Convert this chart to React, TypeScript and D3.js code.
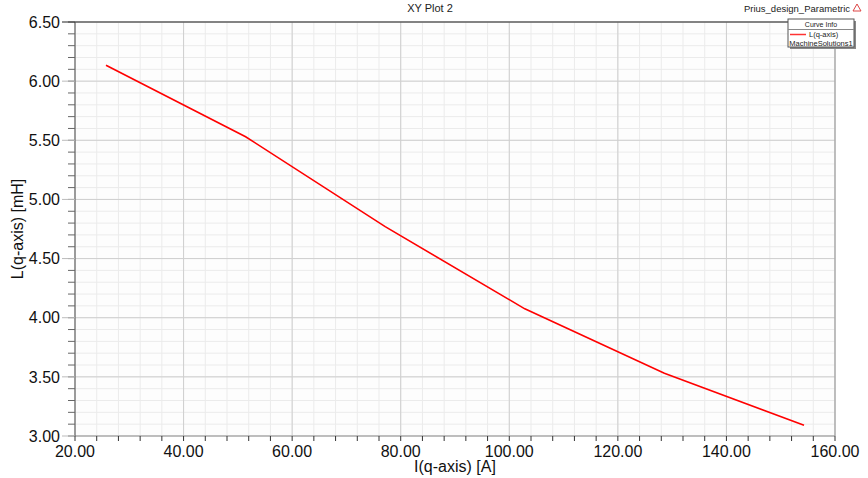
import React from "react";
import * as d3 from "d3";

const currents = [25.71, 51.43, 77.14, 102.86, 128.57, 154.29];
const inductance = [6.134, 5.53, 4.77, 4.075, 3.53, 3.091];
const xTicks = [20, 40, 60, 80, 100, 120, 140, 160];
const yTicks = [3.0, 3.5, 4.0, 4.5, 5.0, 5.5, 6.0, 6.5];
const xMinor = d3.range(20, 160.001, 4);
const yMinor = d3.range(30, 65.001, 1).map((v) => v / 10);

const W = 868;
const H = 478;
const L = 75;
const R = 835;
const T = 22;
const B = 436;

export default function App() {
  const x = d3.scaleLinear().domain([20, 160]).range([L, R]);
  const y = d3.scaleLinear().domain([3, 6.5]).range([B, T]);
  const line = d3
    .line<number>()
    .x((_, i) => x(currents[i]))
    .y((d) => y(d));
  const font = "'Liberation Sans', Arial, sans-serif";
  return (
    <svg
      width={W}
      height={H}
      style={{ position: "absolute", left: 0, top: 0, background: "#fff" }}
      fontFamily={font}
    >
      <rect x={L} y={T} width={R - L} height={B - T} fill="#fdfdfd" />
      {xMinor.map((v) => (
        <line key={"xm" + v} x1={x(v)} x2={x(v)} y1={T} y2={B} stroke="#ebebeb" strokeWidth={1} />
      ))}
      {yMinor.map((v) => (
        <line key={"ym" + v} x1={L} x2={R} y1={y(v)} y2={y(v)} stroke="#ebebeb" strokeWidth={1} />
      ))}
      {xTicks.map((v) => (
        <line key={"xg" + v} x1={x(v)} x2={x(v)} y1={T} y2={B} stroke="#cfcfcf" strokeWidth={1} />
      ))}
      {yTicks.map((v) => (
        <line key={"yg" + v} x1={L} x2={R} y1={y(v)} y2={y(v)} stroke="#cfcfcf" strokeWidth={1} />
      ))}
      {/* borders */}
      <line x1={R} x2={R} y1={T} y2={B} stroke="#999" />
      <line x1={L} x2={R} y1={B} y2={B} stroke="#999" />
      <line x1={L} x2={R} y1={T} y2={T} stroke="#222" />
      <line x1={L} x2={L} y1={T} y2={B} stroke="#555" />
      {/* y ticks */}
      {yMinor.map((v) => (
        <line key={"yt" + v} x1={L - 7} x2={L} y1={y(v)} y2={y(v)} stroke="#666" />
      ))}
      {yTicks.map((v) => (
        <line key={"yT" + v} x1={L - 13} x2={L} y1={y(v)} y2={y(v)} stroke={v === 6.5 ? "#222" : "#bbb"} />
      ))}
      {yTicks.map((v) => (
        <text key={"yl" + v} x={L - 15} y={y(v)} dy="0.36em" textAnchor="end" fontSize={16} fill="#111">
          {v.toFixed(2)}
        </text>
      ))}
      {/* x ticks */}
      {xMinor.map((v) => (
        <line key={"xt" + v} x1={x(v)} x2={x(v)} y1={B} y2={B + 5} stroke="#333" />
      ))}
      {xTicks.map((v) => (
        <text key={"xl" + v} x={x(v)} y={B + 21} textAnchor="middle" fontSize={16} fill="#111">
          {v.toFixed(2)}
        </text>
      ))}
      <text x={455} y={472} textAnchor="middle" fontSize={16} fill="#111">
        I(q-axis) [A]
      </text>
      <text
        transform={`translate(23, ${(T + B) / 2}) rotate(-90)`}
        textAnchor="middle"
        fontSize={16}
        fill="#111"
      >
        L(q-axis) [mH]
      </text>
      {/* data */}
      <path d={line(inductance) || ""} fill="none" stroke="#ff0000" strokeWidth={1.6} />
      {/* titles */}
      <text x={430} y={12} textAnchor="middle" fontSize={11} fill="#222">
        XY Plot 2
      </text>
      <text x={797} y={12} textAnchor="middle" fontSize={9.5} fill="#222">
        Prius_design_Parametric
      </text>
      <path d="M857,4 L861,11 L853,11 Z" fill="none" stroke="#d44" strokeWidth={1} />
      {/* legend */}
      <rect x={790} y={21} width={66} height={28} fill="#888" />
      <rect x={788} y={19} width={66} height={28} fill="#fff" stroke="#555" strokeWidth={1} />
      <line x1={788} x2={854} y1={29.5} y2={29.5} stroke="#888" />
      <text x={821} y={27} textAnchor="middle" fontSize={7} fill="#222">
        Curve Info
      </text>
      <line x1={790} x2={806} y1={34.5} y2={34.5} stroke="#ff3333" strokeWidth={1.5} />
      <text x={809} y={37} fontSize={7.5} fill="#222">
        L(q-axis)
      </text>
      <text x={821} y={45.5} textAnchor="middle" fontSize={7.5} fill="#222">
        MachineSolutions1
      </text>
    </svg>
  );
}
